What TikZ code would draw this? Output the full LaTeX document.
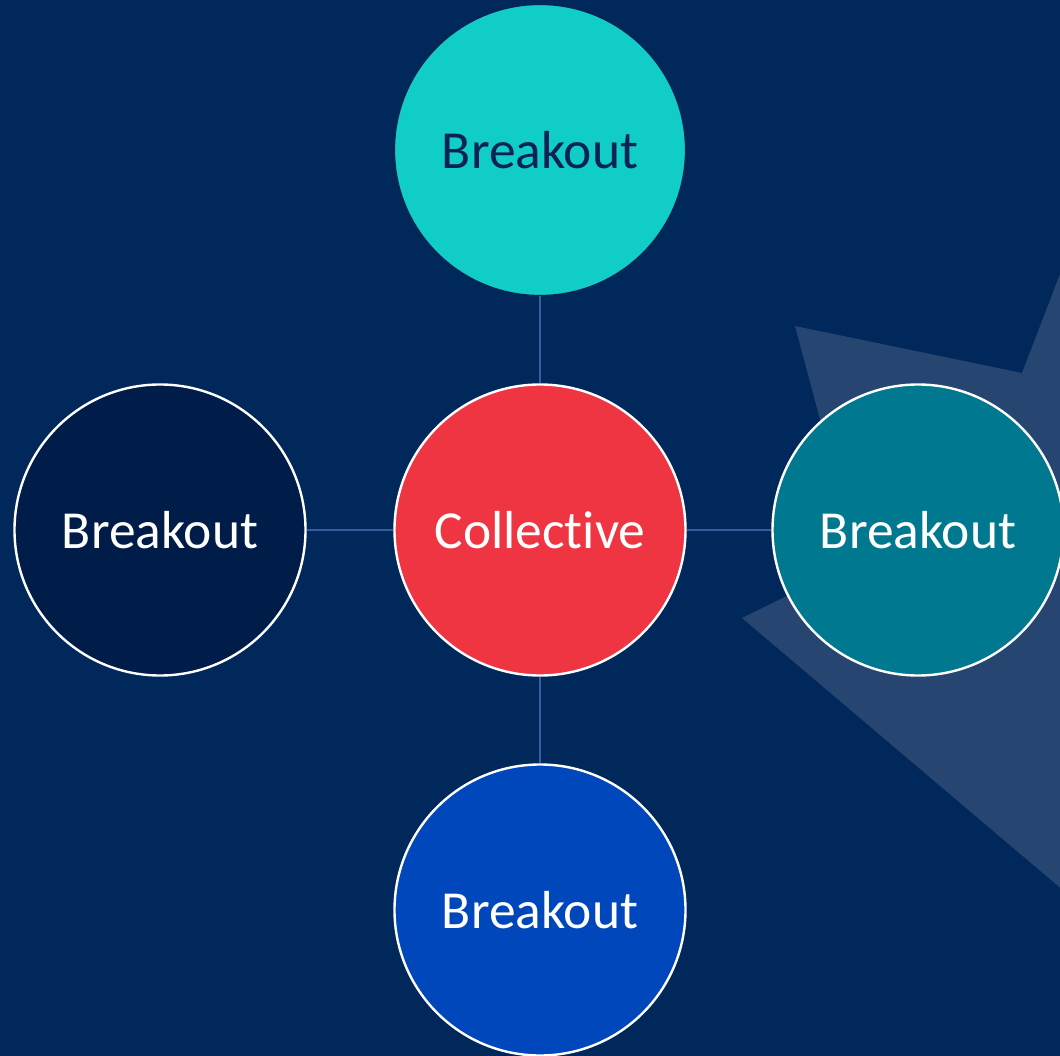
\documentclass[tikz,border=0pt]{standalone}
\usepackage{fontspec}
\setmainfont[Ligatures={NoCommon}]{Carlito}
\begin{document}
\begin{tikzpicture}[x=1pt,y=-1pt,
  bubble/.style={circle, minimum size=291pt, inner sep=0pt, draw=white, line width=2.4pt, font=\fontsize{53.5}{64}\selectfont, text=white},
  link/.style={draw=linkc, line width=1.8pt}]
\definecolor{bg}{HTML}{00285A}
\definecolor{starc}{HTML}{264571}
\definecolor{linkc}{HTML}{3A5C9C}
\definecolor{tealA}{HTML}{10CDC8}
\definecolor{navyT}{HTML}{0B2352}
\definecolor{redc}{HTML}{EF3442}
\definecolor{darkc}{HTML}{001C48}
\definecolor{tealB}{HTML}{00788F}
\definecolor{bluec}{HTML}{0047BB}
\useasboundingbox (0,0) rectangle (1060,1056);
\clip (0,0) rectangle (1060,1056);
\fill[bg] (0,0) rectangle (1060,1056);
% background star shape
\fill[starc] (795,326) -- (1022,373) -- (1100,170) -- (1200,600) -- (1110,930) -- (742,618) -- (858,561) -- cycle;
% nodes
\node[bubble, fill=redc] (c) at (540,530) {Collective};
\node[bubble, fill=tealA, draw=navyT, line width=1.2pt, text=navyT] (t) at (540,150) {Breakout};
\node[bubble, fill=darkc] (l) at (160,530) {Breakout};
\node[bubble, fill=tealB] (r) at (918,530) {Breakout};
\node[bubble, fill=bluec] (b) at (540,910) {Breakout};
% connectors
\path[link] (c) -- (t);
\path[link] (c) -- (l);
\path[link] (c) -- (r);
\path[link] (c) -- (b);
\end{tikzpicture}
\end{document}
